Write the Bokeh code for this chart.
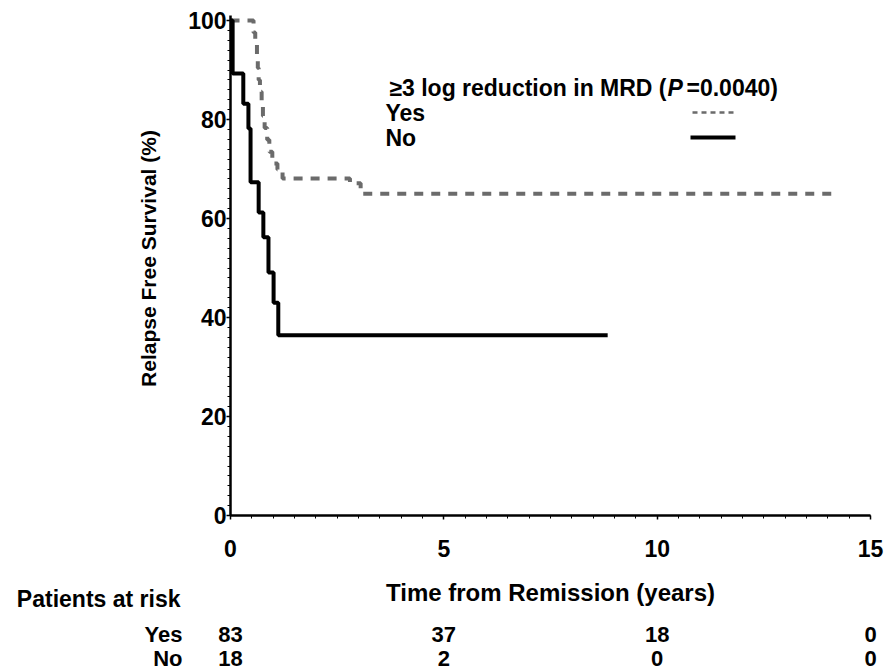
import math
from bokeh.plotting import figure
from bokeh.core.properties import value
from bokeh.models import (Range1d, SingleIntervalTicker, Label, LabelSet, Arrow,
                          ColumnDataSource)
from bokeh.embed import file_html
from bokeh.resources import INLINE

# ---- data ----
yes_time = [0, 0.54, 0.58, 0.62, 0.64, 0.66, 0.69, 0.73, 0.76, 0.80, 0.86, 0.91, 0.98, 1.10, 1.22, 2.80, 3.05, 14.1]
yes_surv = [100, 97.6, 95.2, 92.8, 90.4, 88.0, 85.6, 83.1, 80.7, 78.3, 75.9, 73.5, 71.1, 69.9, 68.1, 67.1, 65.0, 65.0]

no_time = [0, 0.05, 0.30, 0.42, 0.47, 0.66, 0.77, 0.89, 1.01, 1.12, 8.84]
no_surv = [100, 89.3, 83.2, 78.2, 67.3, 61.2, 56.2, 49.1, 43.0, 36.4, 36.4]

risk_times = [0, 5, 10, 15]
risk_yes = ["83", "37", "18", "0"]
risk_no = ["18", "2", "0", "0"]

groups = ["Yes", "No"]
legend_title_a = "\u22653 log reduction in MRD ("
legend_title_p = "P"
legend_title_b = "=0.0040)"
x_label = "Time from Remission (years)"
y_label = "Relapse Free Survival (%)"
risk_title = "Patients at risk"

FONT = "Liberation Sans"
GRAY = "#6b6b6b"

# ---- layout (page pixels) ----
W, H = 884, 672
X0, X1 = 0, 15
Y0, Y1 = 0, 100
PX0, PX1 = 230, 870      # where t=0 and t=15 fall
PY0, PY1 = 515, 20       # where 0 % and 100 % fall
ppx = (PX1 - PX0) / (X1 - X0)
ppy = (PY0 - PY1) / (Y1 - Y0)
x_start = X0 - PX0 / ppx
x_end = X1 + (W - PX1) / ppx
y_start = Y0 - (H - PY0) / ppy
y_end = Y1 + PY1 / ppy


def sy(page_y):
    return H - page_y


p = figure(width=W, height=H, output_backend="svg", toolbar_location=None,
           x_range=Range1d(x_start, x_end), y_range=Range1d(y_start, y_end),
           min_border=0)
p.outline_line_color = None
p.grid.visible = False

p.step(yes_time, yes_surv, mode="after", line_color=GRAY, line_width=4, line_dash="9 8")
p.step(no_time, no_surv, mode="after", line_color="black", line_width=4)

p.xaxis.ticker = SingleIntervalTicker(interval=5, num_minor_ticks=10)
p.yaxis.ticker = SingleIntervalTicker(interval=20, num_minor_ticks=10)
p.xaxis.fixed_location = Y0
p.yaxis.fixed_location = X0
p.xaxis.bounds = (X0, X1)
p.yaxis.bounds = (Y0, Y1 + 1)
for ax in (p.xaxis, p.yaxis):
    ax.axis_line_width = 2.5
    ax.axis_line_color = "black"
    ax.major_tick_line_color = "black"
    ax.minor_tick_line_color = "black"
    ax.major_tick_line_width = 1.5
    ax.minor_tick_line_width = 1
    ax.major_tick_in = 0
    ax.major_tick_out = 4
    ax.minor_tick_in = 0
    ax.minor_tick_out = 3
    ax.major_label_text_font = FONT
    ax.major_label_text_font_style = "bold"
    ax.major_label_text_font_size = "23px"
    ax.major_label_text_color = "black"
p.xaxis.major_label_standoff = 20
p.yaxis.major_label_standoff = 0


def lab(text, x, y, align="left", style="bold", size="23px", xu="screen", angle=0):
    p.add_layout(Label(x=x, y=y, x_units=xu, y_units="screen", text=text, angle=angle,
                       text_font=FONT, text_font_style=style, text_font_size=size,
                       text_align=align, text_baseline="middle", text_color="black"))


# axis titles
lab(x_label, (X0 + X1) / 2, sy(592), align="center", size="24px", xu="data")
lab(y_label, 148, sy(258), align="center", size="21px", angle=math.pi / 2)

# legend (text on the left, key on the right)
lab(legend_title_a, 666, sy(87), align="right")
lab(legend_title_p, 667, sy(87), style="bold italic")
lab(legend_title_b, 686, sy(87))
lab(groups[0], 385, sy(112))
lab(groups[1], 385, sy(137))
p.add_layout(Arrow(start=None, end=None, x_start=692, y_start=sy(112), x_end=733, y_end=sy(112),
                   start_units="screen", end_units="screen",
                   line_color=GRAY, line_width=2.5, line_dash="5 4"))
p.add_layout(Arrow(start=None, end=None, x_start=690, y_start=sy(137), x_end=735, y_end=sy(137),
                   start_units="screen", end_units="screen",
                   line_color="black", line_width=4))

# patients-at-risk table
ROW_Y = {"Yes": sy(634), "No": sy(658)}
lab(risk_title, 180, sy(598), align="right", size="23px")
for name in groups:
    lab(name, 182, ROW_Y[name], align="right", size="22px")
src = ColumnDataSource(dict(t=risk_times, yes=risk_yes, no=risk_no))
for col, name in (("yes", "Yes"), ("no", "No")):
    p.add_layout(LabelSet(x="t", y=ROW_Y[name], y_units="screen", text=col, source=src,
                          text_font=value(FONT), text_font_style=value("bold"),
                          text_font_size=value("22px"),
                          text_align=value("center"), text_baseline=value("middle"),
                          text_color=value("black")))

open("out.html", "w").write(file_html(p, INLINE))
